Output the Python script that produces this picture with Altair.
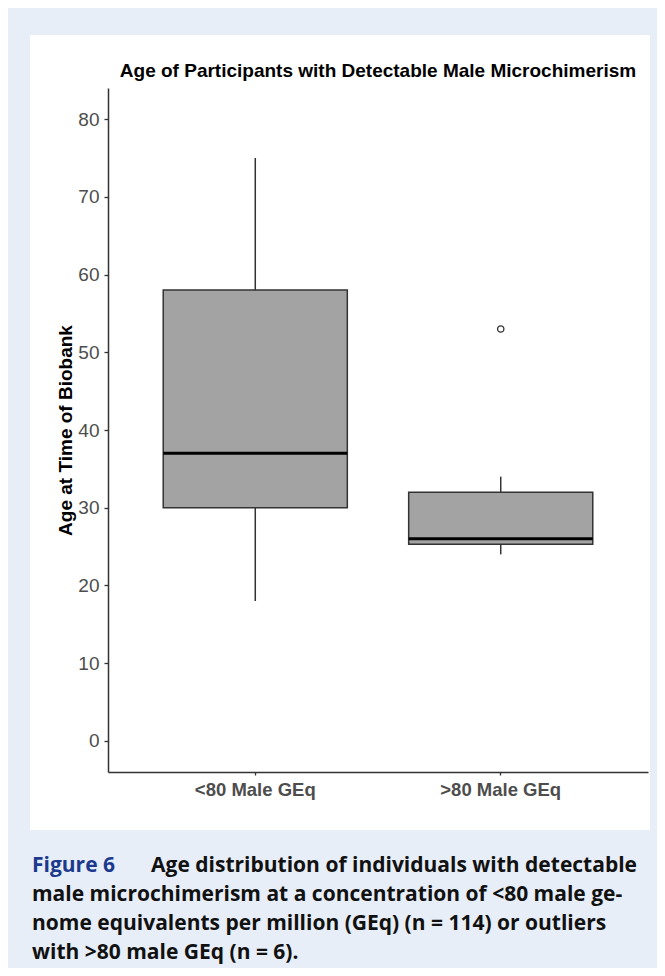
import altair as alt
import pandas as pd

# ---- data ----
groups = ["<80 Male GEq", ">80 Male GEq"]
whisker_low = [18, 24]
q1 = [30, 25.3]
median = [37, 26]
q3 = [58, 32]
whisker_high = [75, 34]
outlier_groups = [">80 Male GEq"]
outlier_values = [53]
y_ticks = [0, 10, 20, 30, 40, 50, 60, 70, 80]

title_text = "Age of Participants with Detectable Male Microchimerism"
y_title = "Age at Time of Biobank"
caption_label = "Figure 6"
caption_lines = [
    "Age distribution of individuals with detectable",
    "male microchimerism at a concentration of <80 male ge-",
    "nome equivalents per million (GEq) (n = 114) or outliers",
    "with >80 male GEq (n = 6).",
]

boxes = pd.DataFrame({
    "group": groups, "low": whisker_low, "q1": q1,
    "median": median, "q3": q3, "high": whisker_high,
})
outliers = pd.DataFrame({"group": outlier_groups, "value": outlier_values})

W, H = 540, 684
BG = "#e7eef8"
FONT = "Liberation Sans"
CAP_FONT = "Open Sans"

xscale = alt.Scale(type="band", domain=groups, paddingInner=0.25, paddingOuter=0.225)
yscale = alt.Scale(domain=[-4, 84], nice=False, zero=False)

xaxis = alt.Axis(
    title=None, labelAngle=0, labelFont=FONT, labelFontSize=18.5, labelFontWeight="bold",
    labelColor="#4d4d4d", labelPadding=5, tickSize=3, tickColor="#333333",
    domainColor="#333333", domainWidth=1.5, tickWidth=1.3, grid=False, zindex=2,
)
yaxis = alt.Axis(
    title=y_title, values=y_ticks, labelFont=FONT, labelFontSize=19, labelColor="#4d4d4d",
    labelPadding=5, tickSize=4, tickColor="#333333", tickWidth=1.3,
    domainColor="#333333", domainWidth=1.5, grid=False, zindex=2,
    titleFont=FONT, titleFontSize=19, titleFontWeight="bold", titleColor="#000000",
    titleX=-43, titleY=H / 2, titleAngle=-90, titleAlign="center", titleBaseline="middle",
)

one = pd.DataFrame({"k": [0]})

panel = alt.Chart(one).mark_rect(fill="white").encode(
    x=alt.value(-78), x2=alt.value(542), y=alt.value(-53), y2=alt.value(742)
)

title_mark = alt.Chart(one).mark_text(
    text=title_text, font=FONT, fontSize=19, fontWeight="bold", color="#000000",
    align="center", baseline="alphabetic",
).encode(x=alt.value(W / 2), y=alt.value(-11))

base = alt.Chart(boxes)

whisk = base.mark_rule(color="#333333", strokeWidth=1.5).encode(
    x=alt.X("group:N", scale=xscale, axis=xaxis, sort=groups),
    y=alt.Y("low:Q", scale=yscale, axis=yaxis),
    y2="high:Q",
)
box = base.mark_bar(fill="#a3a3a3", stroke="#333333", strokeWidth=1.5).encode(
    x=alt.X("group:N", scale=xscale, sort=groups),
    y=alt.Y("q1:Q", scale=yscale),
    y2="q3:Q",
)
med = base.mark_tick(color="#000000", thickness=3, size=184, orient="horizontal", opacity=1).encode(
    x=alt.X("group:N", scale=xscale, sort=groups),
    y=alt.Y("median:Q", scale=yscale),
)
outl = alt.Chart(outliers).mark_point(
    shape="circle", filled=False, color="#333333", size=40, strokeWidth=1.3, opacity=1
).encode(
    x=alt.X("group:N", scale=xscale, sort=groups),
    y=alt.Y("value:Q", scale=yscale),
)

cap_common = dict(font=CAP_FONT, fontSize=21, fontWeight="bold", baseline="alphabetic")
cap_layers = [
    alt.Chart(one).mark_text(color="#1b3a8e", text=caption_label, align="left", **cap_common).encode(
        x=alt.value(-76), y=alt.value(784)
    ),
    alt.Chart(one).mark_text(color="#111111", text=caption_lines[0], align="right", **cap_common).encode(
        x=alt.value(529), y=alt.value(784)
    ),
]
for i, line in enumerate(caption_lines[1:], start=1):
    cap_layers.append(
        alt.Chart(one).mark_text(color="#111111", text=line, align="left", **cap_common).encode(
            x=alt.value(-76), y=alt.value(784 + 29 * i)
        )
    )

chart = alt.layer(panel, title_mark, whisk, box, med, outl, *cap_layers).properties(
    width=W, height=H,
    autosize=alt.AutoSizeParams(type="none"),
    padding={"left": 100, "top": 80, "right": 9, "bottom": 196},
).configure(background=BG).configure_view(stroke=None)

chart.save("out.html", embed_options={"renderer": "svg", "actions": False})
